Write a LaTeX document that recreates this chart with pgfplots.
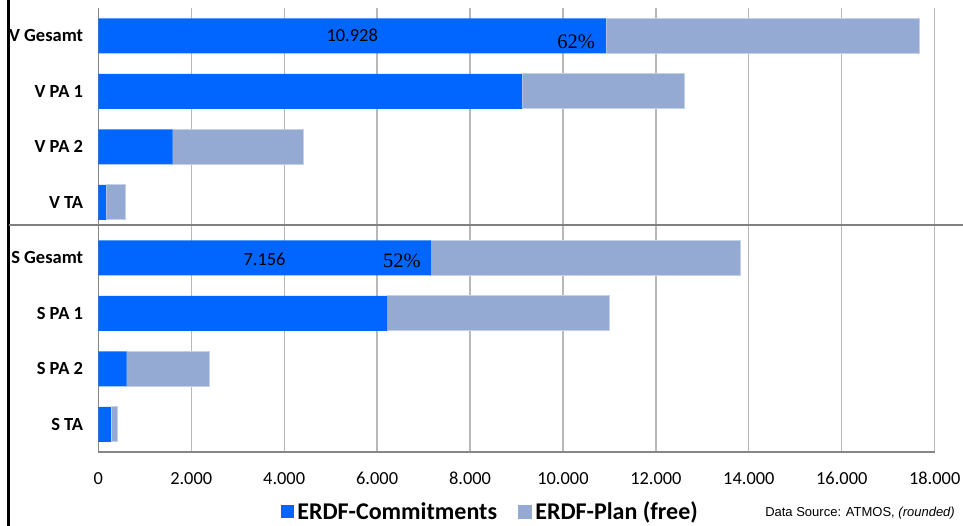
\documentclass[border=0pt]{standalone}
\usepackage{pgfplots}
\pgfplotsset{compat=1.18}
\usepackage{fontspec}
\setmainfont{Carlito}
\newfontfamily\timesfont{Liberation Serif}
\newfontfamily\arialfont{Liberation Sans}
\definecolor{commit}{RGB}{0,102,255}
\definecolor{planfree}{RGB}{149,170,210}
\definecolor{gridgray}{RGB}{184,184,184}
\definecolor{axisgray}{RGB}{134,134,134}
\definecolor{sepgray}{RGB}{128,128,128}

\begin{document}
\begin{tikzpicture}[x=1bp,y=1bp]
\path[use as bounding box] (0,0) rectangle (963,-526);
\begin{axis}[
    at={(98.3bp,-452bp)}, anchor=south west,
    scale only axis, width=836.4bp, height=444bp,
    xbar stacked, bar width=35bp,
    xmin=0, xmax=18000,
    ymin=-0.5, ymax=7.5,
    xtick={0,2000,...,18000},
    ytick={0,...,7},
    yticklabels={S TA, S PA 2, S PA 1, S Gesamt, V TA, V PA 2, V PA 1, V Gesamt},
    scaled x ticks=false,
    /pgf/number format/1000 sep={.},
    /pgf/number format/assume math mode=true,
    axis x line=bottom, axis y line=left,
    axis line style={-, draw=axisgray, line width=1.3bp},
    major tick length=0pt,
    xmajorgrids,
    major grid style={draw=gridgray, line width=1.3bp},
    xticklabel style={font=\fontsize{18.4bp}{22bp}\selectfont, inner sep=0pt, anchor=base, yshift=-32bp},
    yticklabel style={font=\bfseries\fontsize{18.5bp}{22bp}\selectfont, inner sep=0pt, anchor=east, xshift=-15bp},
    legend columns=2,
    legend style={at={(0.2184,-0.1345)}, anchor=west, draw=none, fill=none, inner sep=0pt,
        font=\bfseries\fontsize{24bp}{26bp}\selectfont,
        nodes={inner xsep=3.2bp, inner ysep=0pt},
        /tikz/every even column/.append style={column sep=18bp}},
]
\addplot[fill=commit, draw=none,
    legend image code/.code={\fill[commit] (0bp,-6.5bp) rectangle (13bp,6.5bp);}]
  coordinates {
    (10928,7) (9122,6) (1602,5) (166,4)
    (7156,3) (6222,2) (611,1) (273,0)
  };
\addplot[fill=planfree, draw={rgb,255:red,196;green,208;blue,232}, line width=0.8bp,
    legend image code/.code={\fill[planfree] (0bp,-6.5bp) rectangle (13bp,6.5bp);}]
  coordinates {
    (6735,7) (3494,6) (2820,5) (424,4)
    (6660,3) (4767,2) (1779,1) (136,0)
  };
\legend{ERDF-Commitments, ERDF-Plan (free)}

\coordinate (vmid) at (axis cs:5464,7);
\coordinate (vend) at (axis cs:10928,6.89);
\coordinate (smid) at (axis cs:3578,2.98);
\coordinate (send) at (axis cs:7156,2.94);
\end{axis}
\node[font=\fontsize{18.4bp}{22bp}\selectfont, inner sep=0pt] at (vmid) {10.928};
\node[font=\timesfont\fontsize{20.5bp}{24bp}\selectfont, inner sep=0pt, anchor=east, xshift=-11bp] at (vend) {62\%};
\node[font=\fontsize{18.4bp}{22bp}\selectfont, inner sep=0pt] at (smid) {7.156};
\node[font=\timesfont\fontsize{20.5bp}{24bp}\selectfont, inner sep=0pt, anchor=east, xshift=-10bp] at (send) {52\%};
\draw[black, line width=2.3bp] (8.5,0) -- (8.5,-526);
\draw[sepgray, line width=2.8bp] (8.5,-225) -- (963,-225);
\node[anchor=east, inner sep=0pt, font=\arialfont\fontsize{13bp}{15bp}\selectfont] at (955,-513) {Data Source: ATMOS, \textit{(rounded)}};
\end{tikzpicture}
\end{document}
